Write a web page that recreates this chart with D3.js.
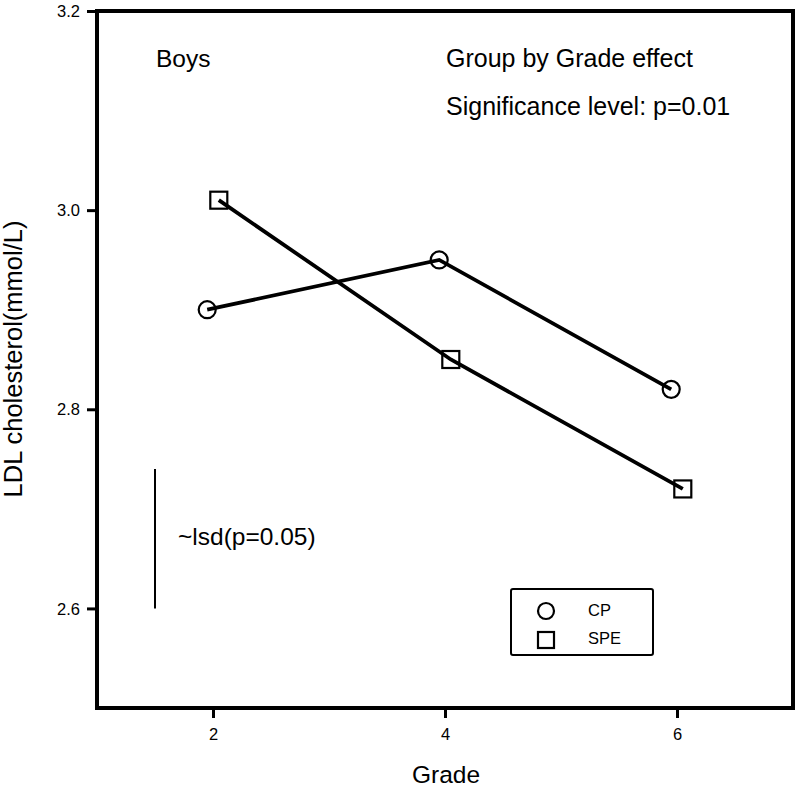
<!DOCTYPE html>
<html><head><meta charset="utf-8">
<script src="https://cdn.jsdelivr.net/npm/d3@7"></script>
<style>body{margin:0;background:#fff}svg{display:block}svg text{font-family:"Liberation Sans",Arial,sans-serif}</style>
</head><body>
<svg id="c" width="798" height="789"></svg>
<script>
const grades = [2, 4, 6];
const cpValues = [2.90, 2.95, 2.82];
const speValues = [3.01, 2.85, 2.72];
const yTicks = [2.6, 2.8, 3.0, 3.2];
const xTicks = [2, 4, 6];
const lsdRange = [2.60, 2.74];
const legendItems = ["CP", "SPE"];

const FONT = '"Liberation Sans",Arial,sans-serif';
const svg = d3.select("#c");
const x = d3.scaleLinear().domain([1, 7]).range([97, 793]);
const y = d3.scaleLinear().domain([2.5, 3.2]).range([708, 11]);
const off = 0.05;

// frame
svg.append("rect").attr("x", x(1)).attr("y", y(3.2)).attr("width", x(7) - x(1)).attr("height", y(2.5) - y(3.2))
  .attr("fill", "none").attr("stroke", "#000").attr("stroke-width", 4);

// axes
const yAxis = d3.axisLeft(y).tickValues(yTicks).tickFormat(d3.format(".1f")).tickSize(8).tickPadding(7);
const gy = svg.append("g").attr("transform", `translate(${x(1) - 2},0)`).call(yAxis)
  .attr("font-family", FONT).attr("font-size", 16.5);
gy.select(".domain").remove();
gy.selectAll("line").attr("stroke-width", 3);
gy.selectAll("text").attr("fill", "#000").attr("dy", "0.34em");

const xAxis = d3.axisBottom(x).tickValues(xTicks).tickFormat(d3.format("d")).tickSize(8).tickPadding(10);
const gx = svg.append("g").attr("transform", `translate(0,${y(2.5) + 2})`).call(xAxis)
  .attr("font-family", FONT).attr("font-size", 16.5);
gx.select(".domain").remove();
gx.selectAll("line").attr("stroke-width", 3);
gx.selectAll("text").attr("fill", "#000").attr("y", 30).attr("dy", null);

// axis titles
svg.append("text").attr("x", 446).attr("y", 783).attr("text-anchor", "middle").attr("font-size", 24.5).text("Grade");
svg.append("text").attr("transform", "translate(22,359) rotate(-90)").attr("text-anchor", "middle").attr("font-size", 25.5)
  .text("LDL cholesterol(mmol/L)");

// markers and lines
const line = d3.line().x(d => x(d[0])).y(d => y(d[1]));
const cpPts = grades.map((g, i) => [g - off, cpValues[i]]);
const spePts = grades.map((g, i) => [g + off, speValues[i]]);

svg.selectAll(".cpm").data(cpPts).enter().append("circle")
  .attr("cx", d => x(d[0])).attr("cy", d => y(d[1])).attr("r", 8.5)
  .attr("fill", "#fff").attr("stroke", "#000").attr("stroke-width", 2.2);
svg.selectAll(".spem").data(spePts).enter().append("rect")
  .attr("x", d => x(d[0]) - 8.5).attr("y", d => y(d[1]) - 8.5).attr("width", 17).attr("height", 17)
  .attr("fill", "#fff").attr("stroke", "#000").attr("stroke-width", 2.2);

svg.append("path").datum(cpPts).attr("d", line).attr("fill", "none").attr("stroke", "#000").attr("stroke-width", 3.8);
svg.append("path").datum(spePts).attr("d", line).attr("fill", "none").attr("stroke", "#000").attr("stroke-width", 3.8);

// lsd bar
svg.append("line").attr("x1", 155).attr("x2", 155).attr("y1", y(lsdRange[0])).attr("y2", y(lsdRange[1]))
  .attr("stroke", "#000").attr("stroke-width", 2);
svg.append("text").attr("x", 178).attr("y", 545).attr("font-size", 24.5).text("~lsd(p=0.05)");

// annotations
svg.append("text").attr("x", 156).attr("y", 67).attr("font-size", 24.5).text("Boys");
svg.append("text").attr("x", 446).attr("y", 67).attr("font-size", 25).text("Group by Grade effect");
svg.append("text").attr("x", 446).attr("y", 115).attr("font-size", 25).text("Significance level: p=0.01");

// legend
svg.append("rect").attr("x", 511).attr("y", 589).attr("width", 142).attr("height", 66).attr("rx", 2)
  .attr("fill", "#fff").attr("stroke", "#000").attr("stroke-width", 2);
svg.append("circle").attr("cx", 546).attr("cy", 611).attr("r", 8).attr("fill", "none").attr("stroke", "#000").attr("stroke-width", 2.2);
svg.append("rect").attr("x", 538).attr("y", 632).attr("width", 16).attr("height", 16).attr("fill", "none").attr("stroke", "#000").attr("stroke-width", 2.2);
legendItems.forEach((t, i) => {
  svg.append("text").attr("x", 588).attr("y", 616 + i * 28).attr("font-size", 16.5).text(t);
});
</script>
</body></html>
